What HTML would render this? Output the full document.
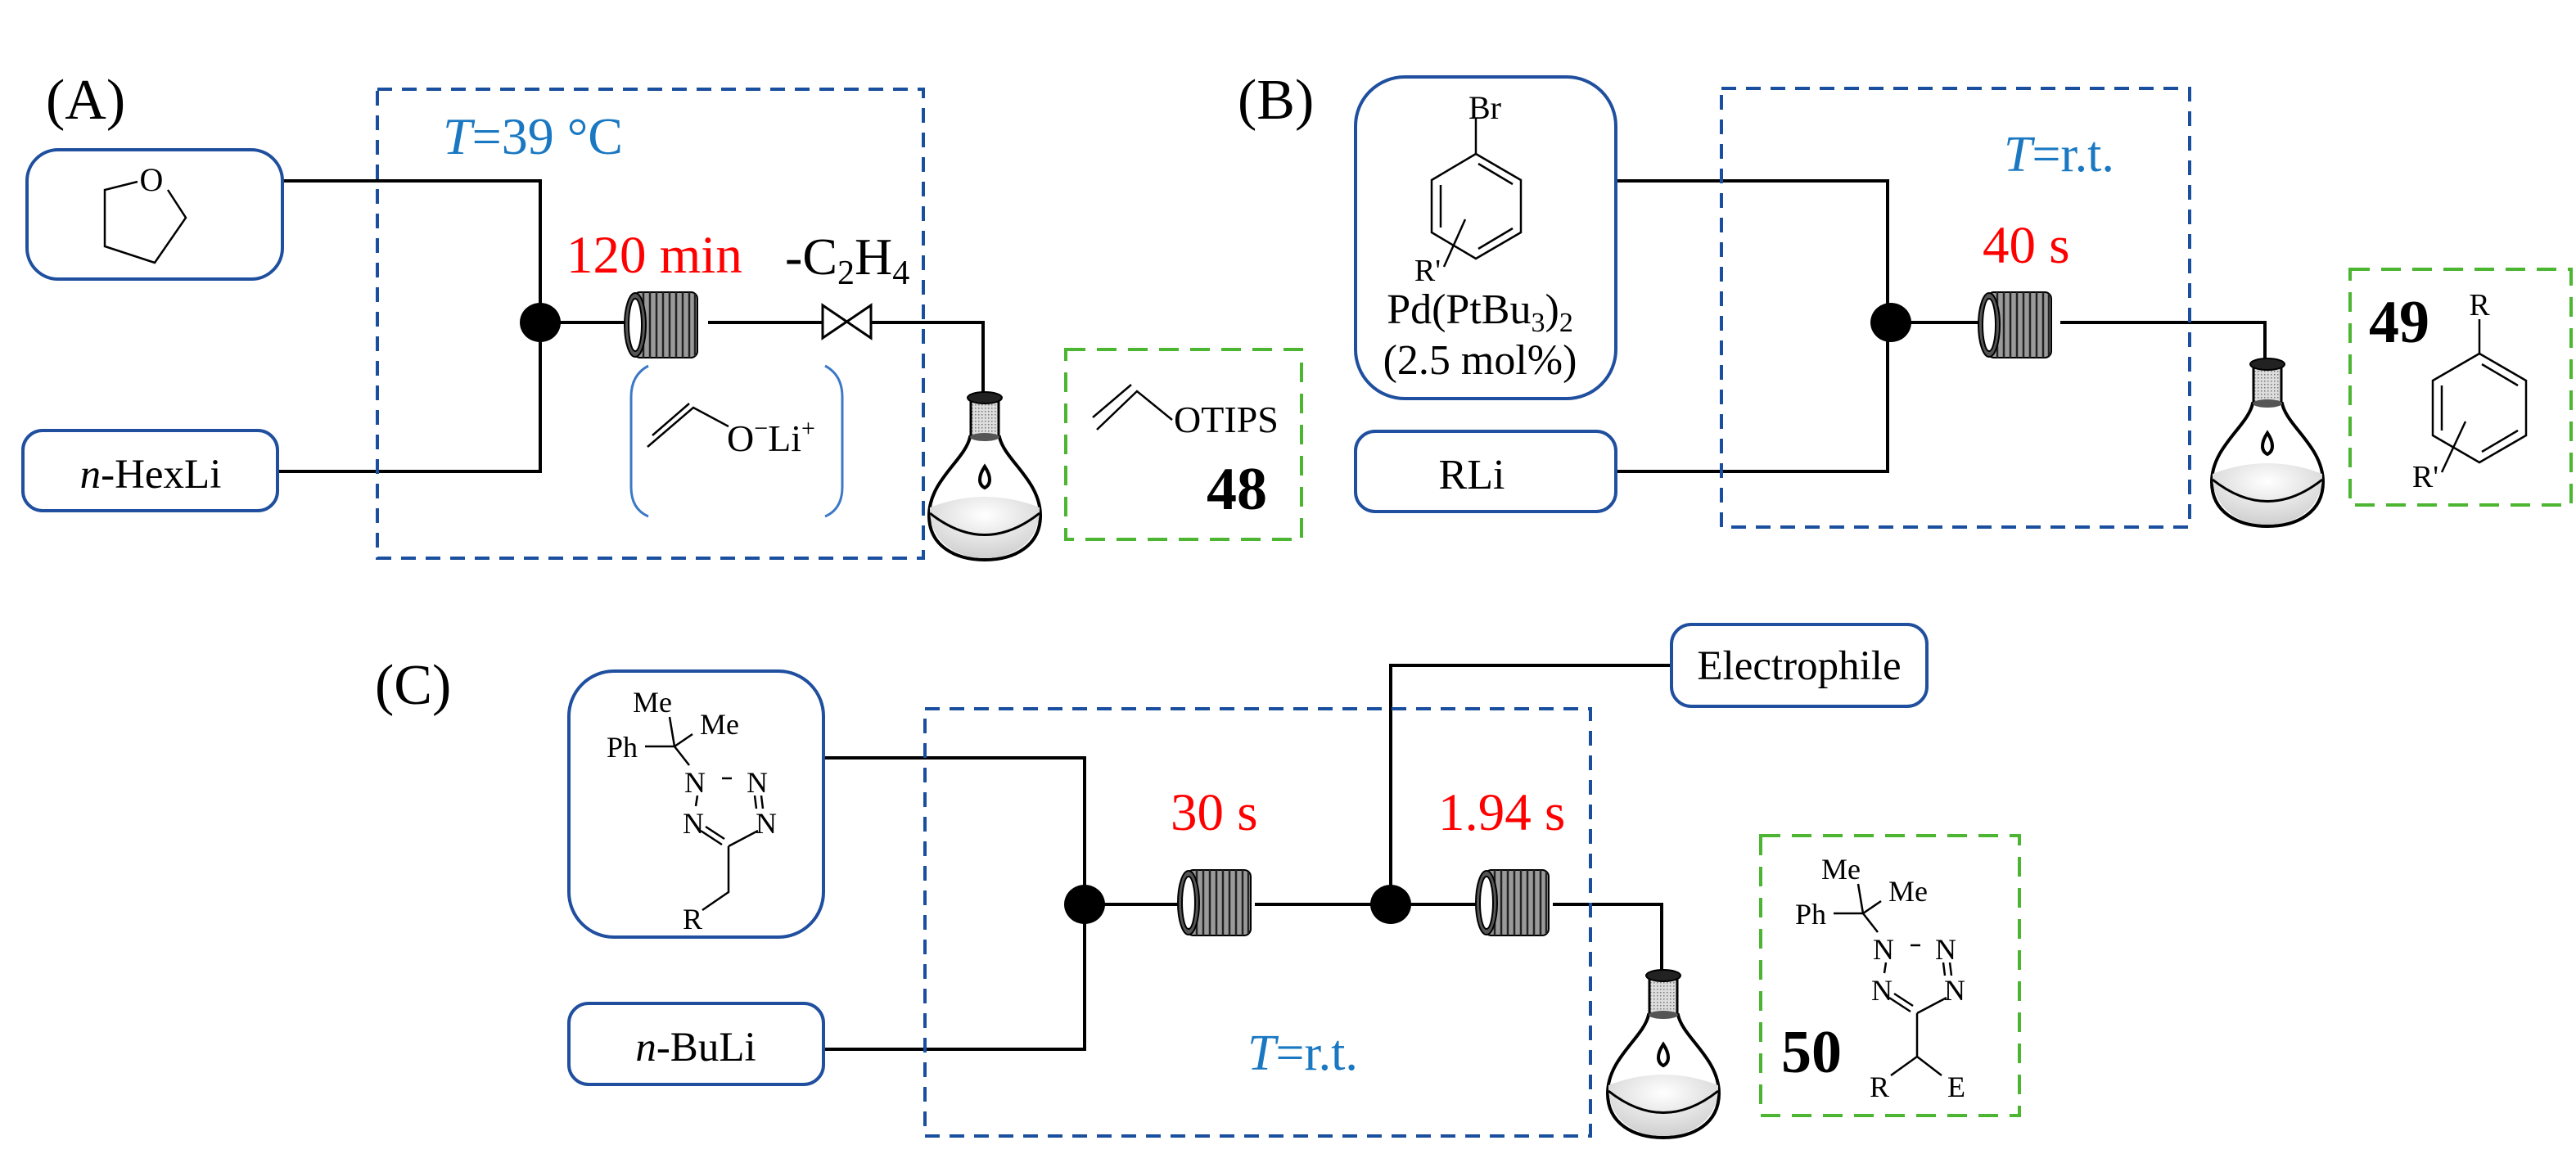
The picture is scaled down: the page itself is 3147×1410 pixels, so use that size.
<!DOCTYPE html>
<html><head><meta charset="utf-8"><style>
html,body{margin:0;padding:0;background:#fff;}
svg{display:block;}
text{font-family:"Liberation Serif",serif;}
</style></head><body>
<svg width="3147" height="1410" viewBox="0 0 3147 1410" xmlns="http://www.w3.org/2000/svg">
<defs>
<radialGradient id="rg" cx="0.5" cy="0.3" r="0.7"><stop offset="0" stop-color="#fff"/><stop offset="1" stop-color="#cfcfcf"/></radialGradient>
<pattern id="dots" width="4" height="4" patternUnits="userSpaceOnUse"><rect width="4" height="4" fill="#ddd"/><rect width="1.5" height="1.5" fill="#777"/></pattern>
<g id="flask">
<path d="M -18 52 C -24 80 -68 105 -68 148 C -68 185 -36 202 0 202 C 36 202 68 185 68 148 C 68 105 24 80 18 52 Z" fill="#fff" stroke="#000" stroke-width="4"/>
<path d="M -67 138 Q 0 112 67 138 C 68 180 36 200 0 200 C -36 200 -68 180 -67 138 Z" fill="url(#rg)"/>
<path d="M -67 145 Q 0 198 67 145" fill="none" stroke="#000" stroke-width="3"/>
<rect x="-17" y="4" width="34" height="48" fill="url(#dots)" stroke="#000" stroke-width="3"/>
<ellipse cx="0" cy="4" rx="21" ry="7" fill="#222" stroke="#000" stroke-width="2"/>
<ellipse cx="0" cy="52" rx="18" ry="5" fill="#555"/>
<path d="M 0 88 C -8 100 -8 110 0 114 C 8 110 8 100 0 88 Z" fill="#fff" stroke="#000" stroke-width="4"/>
</g>
<g id="coil">
<rect x="12" y="-40" width="78" height="80" rx="8" fill="#9a9a9a" stroke="#000" stroke-width="2"/>
<g stroke="#222" stroke-width="2.5">
<line x1="24" y1="-40" x2="24" y2="40"/><line x1="32" y1="-40" x2="32" y2="40"/><line x1="40" y1="-40" x2="40" y2="40"/><line x1="48" y1="-40" x2="48" y2="40"/><line x1="56" y1="-40" x2="56" y2="40"/><line x1="64" y1="-40" x2="64" y2="40"/><line x1="72" y1="-40" x2="72" y2="40"/><line x1="80" y1="-40" x2="80" y2="40"/><line x1="87" y1="-38" x2="87" y2="38"/>
</g>
<ellipse cx="14" cy="0" rx="13" ry="39" fill="#555" stroke="#000" stroke-width="2"/>
<ellipse cx="14" cy="0" rx="8" ry="32" fill="#fff" stroke="#000" stroke-width="2"/>
</g>
</defs>

<g fill="none" stroke="#000" stroke-width="4">
<polyline points="345,221 660,221 660,576 339,576"/>
<line x1="660" y1="394" x2="772" y2="394"/>
<line x1="865" y1="394" x2="1005" y2="394"/>
<polyline points="1064,394 1201,394 1201,486"/>
<polyline points="1974,221 2306,221 2306,576 1974,576"/>
<line x1="2306" y1="394" x2="2424" y2="394"/>
<polyline points="2517,394 2767,394 2767,445"/>
<polyline points="1006,926 1325,926 1325,1282 1006,1282"/>
<line x1="1325" y1="1105" x2="1445" y2="1105"/>
<line x1="1533" y1="1105" x2="1808" y2="1105"/>
<polyline points="1699,1105 1699,813 2042,813"/>
<polyline points="1897,1105 2030,1105 2030,1192"/>
</g>

<g stroke="#000" stroke-width="3" fill="#fff">
<path d="M1005 373 L1064 413 L1064 373 L1005 413 Z"/>
</g>

<g fill="#000">
<ellipse cx="660" cy="394" rx="25" ry="24"/>
<ellipse cx="2310" cy="394" rx="25" ry="24"/>
<ellipse cx="1325" cy="1105" rx="25" ry="24"/>
<ellipse cx="1699" cy="1105" rx="25" ry="24"/>
</g>

<use href="#coil" x="762" y="397"/>
<use href="#coil" x="2416" y="397"/>
<use href="#coil" x="1438" y="1103"/>
<use href="#coil" x="1802" y="1103"/>

<use href="#flask" x="1203" y="482"/>
<use href="#flask" x="2770" y="441"/>
<use href="#flask" x="2032" y="1188"/>

<g fill="none" stroke="#1a4f9f" stroke-width="4" stroke-dasharray="18,12">
<rect x="461" y="109" width="667" height="573"/>
<rect x="2103" y="108" width="572" height="536"/>
<rect x="1130" y="866" width="813" height="522"/>
</g>
<g fill="none" stroke="#4cb531" stroke-width="4" stroke-dasharray="24,14">
<rect x="1302" y="427" width="288" height="232"/>
<rect x="2871" y="329" width="270" height="288"/>
<rect x="2151" y="1021" width="316" height="342"/>
</g>

<g fill="none" stroke="#1f4f9e" stroke-width="4">
<rect x="33" y="183" width="312" height="158" rx="38"/>
<rect x="28" y="526" width="311" height="98" rx="24"/>
<rect x="1656" y="94" width="318" height="393" rx="60"/>
<rect x="1656" y="527" width="318" height="98" rx="24"/>
<rect x="695" y="820" width="311" height="325" rx="55"/>
<rect x="695" y="1226" width="311" height="99" rx="24"/>
<rect x="2042" y="763" width="312" height="100" rx="24"/>
</g>

<g fill="none" stroke="#3b78c6" stroke-width="3">
<path d="M792 447 Q771 458 771 485 L771 595 Q771 622 792 631"/>
<path d="M1008 447 Q1029 458 1029 485 L1029 595 Q1029 622 1008 631"/>
</g>

<g fill="none" stroke="#000" stroke-width="2.5">
<polyline points="168,222 128,232 128,301 189,321 227,266 205,232"/>
<polyline points="791,546 847,498 890,521"/>
<line x1="797" y1="532" x2="842" y2="493"/>
<polyline points="1340,525 1389,478 1432,513"/>
<line x1="1335" y1="510" x2="1382" y2="470"/>
<polygon points="1803,188 1858,220 1858,284 1803,316 1749,284 1749,220"/>
<line x1="1803" y1="188" x2="1803" y2="145"/>
<line x1="1806" y1="200" x2="1848" y2="225"/>
<line x1="1760" y1="226" x2="1760" y2="278"/>
<line x1="1806" y1="304" x2="1848" y2="279"/>
<line x1="1764" y1="326" x2="1790" y2="268"/>
<polygon points="3029,432 3086,465 3086,532 3029,565 2972,532 2972,465"/>
<line x1="3029" y1="432" x2="3029" y2="390"/>
<line x1="3032" y1="445" x2="3076" y2="471"/>
<line x1="2983" y1="471" x2="2983" y2="526"/>
<line x1="3032" y1="552" x2="3076" y2="526"/>
<line x1="2983" y1="577" x2="3012" y2="515"/>
</g>

<g id="tz">
<g fill="none" stroke="#000" stroke-width="2.5">
<line x1="818" y1="876" x2="824" y2="912"/>
<line x1="788" y1="912" x2="824" y2="912"/>
<line x1="824" y1="912" x2="846" y2="897"/>
<line x1="824" y1="912" x2="842" y2="935"/>
<line x1="882" y1="951" x2="894" y2="951"/>
<line x1="852" y1="972" x2="850" y2="985"/>
<line x1="922" y1="972" x2="924" y2="988"/>
<line x1="930" y1="972" x2="932" y2="988"/>
<line x1="856" y1="1015" x2="882" y2="1032"/>
<line x1="862" y1="1010" x2="885" y2="1025"/>
<line x1="926" y1="1015" x2="890" y2="1034"/>
</g>
<g font-size="36" text-anchor="middle">
<text x="797" y="870">Me</text>
<text x="879" y="897">Me</text>
<text x="760" y="925">Ph</text>
<text x="849" y="968">N</text>
<text x="925" y="968">N</text>
<text x="847" y="1018">N</text>
<text x="936" y="1018">N</text>
</g>
</g>
<g fill="none" stroke="#000" stroke-width="2.5">
<polyline points="890,1034 890,1090 858,1112"/>
</g>
<text x="846" y="1135" font-size="36" text-anchor="middle">R</text>

<use href="#tz" x="1452" y="204"/>
<g fill="none" stroke="#000" stroke-width="2.5">
<polyline points="2342,1238 2342,1291 2310,1314"/>
<line x1="2342" y1="1291" x2="2372" y2="1314"/>
</g>
<g font-size="36" text-anchor="middle">
<text x="2296" y="1340">R</text>
<text x="2390" y="1340">E</text>
</g>

<g font-size="70">
<text x="56" y="145">(A)</text>
<text x="1512" y="145">(B)</text>
<text x="458" y="860">(C)</text>
</g>
<text x="185" y="233" font-size="40" text-anchor="middle">O</text>
<text x="184" y="596" font-size="51" text-anchor="middle"><tspan font-style="italic">n</tspan>-HexLi</text>
<text x="1798" y="597" font-size="52" text-anchor="middle">RLi</text>
<text x="850" y="1296" font-size="51" text-anchor="middle"><tspan font-style="italic">n</tspan>-BuLi</text>
<text x="2198" y="830" font-size="51" text-anchor="middle">Electrophile</text>

<g fill="#1a78c2" font-size="64">
<text x="541" y="188"><tspan font-style="italic">T</tspan>=39 °C</text>
<text x="2448" y="209" font-size="62"><tspan font-style="italic">T</tspan>=r.t.</text>
<text x="1524" y="1307" font-size="62"><tspan font-style="italic">T</tspan>=r.t.</text>
</g>
<g fill="#ff0000" font-size="65">
<text x="692" y="333">120 min</text>
<text x="2422" y="321">40 s</text>
<text x="1430" y="1014">30 s</text>
<text x="1757" y="1014">1.94 s</text>
</g>
<text x="959" y="335" font-size="64">-C<tspan font-size="42" dy="12">2</tspan><tspan dy="-12">H</tspan><tspan font-size="42" dy="12">4</tspan></text>
<text x="888" y="551" font-size="46">O<tspan font-size="30" dy="-18">−</tspan><tspan dy="18">Li</tspan><tspan font-size="30" dy="-18">+</tspan></text>
<text x="1434" y="528" font-size="46">OTIPS</text>
<g font-weight="bold" font-size="74">
<text x="1474" y="622">48</text>
<text x="2894" y="418">49</text>
<text x="2176" y="1310">50</text>
</g>
<text x="1814" y="145" font-size="40" text-anchor="middle">Br</text>
<text x="1744" y="343" font-size="38" text-anchor="middle">R'</text>
<text x="1808" y="395" font-size="52" text-anchor="middle">Pd(PtBu<tspan font-size="34" dy="10">3</tspan><tspan dy="-10">)</tspan><tspan font-size="34" dy="10">2</tspan></text>
<text x="1808" y="457" font-size="52" text-anchor="middle">(2.5 mol%)</text>
<text x="3029" y="385" font-size="38" text-anchor="middle">R</text>
<text x="2963" y="595" font-size="38" text-anchor="middle">R'</text>
</svg>
</body></html>
